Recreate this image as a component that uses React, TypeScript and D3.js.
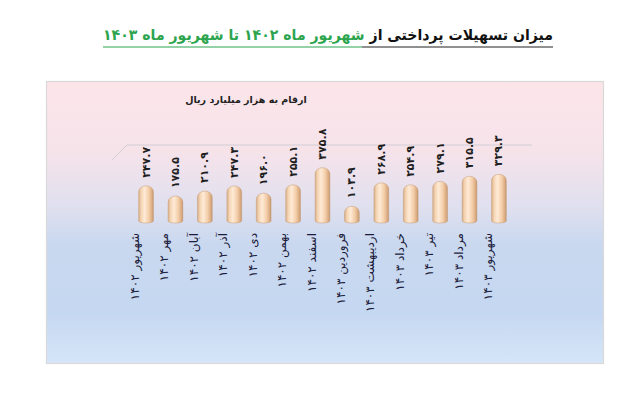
import { useEffect, useRef } from "react";
import * as d3 from "d3";

const months = [
  "شهریور ۱۴۰۲",
  "مهر ۱۴۰۲",
  "آبان ۱۴۰۲",
  "آذر ۱۴۰۲",
  "دی ۱۴۰۲",
  "بهمن ۱۴۰۲",
  "اسفند ۱۴۰۲",
  "فروردین ۱۴۰۳",
  "اردیبهشت ۱۴۰۳",
  "خرداد ۱۴۰۳",
  "تیر ۱۴۰۳",
  "مرداد ۱۴۰۳",
  "شهریور ۱۴۰۳",
];
const values = [247.7, 175.5, 210.9, 247.3, 196.0, 255.1, 375.8, 103.9, 268.9, 254.9, 279.1, 315.5, 329.3];
const valueLabels = ["۲۴۷.۷", "۱۷۵.۵", "۲۱۰.۹", "۲۴۷.۳", "۱۹۶.۰", "۲۵۵.۱", "۳۷۵.۸", "۱۰۳.۹", "۲۶۸.۹", "۲۵۴.۹", "۲۷۹.۱", "۳۱۵.۵", "۳۲۹.۳"];
const titleBlack = "میزان تسهیلات پرداختی از ";
const titleGreen = "شهریور ماه ۱۴۰۲ تا شهریور ماه ۱۴۰۳";
const unitNote = "ارقام به هزار میلیارد ریال";

const W = 640;
const H = 402;
const FONT = "'DejaVu Sans', sans-serif";

export default function App() {
  const svgRef = useRef<SVGSVGElement>(null);

  useEffect(() => {
    if (!svgRef.current) return;
    const svg = d3.select(svgRef.current);
    svg.selectAll("*").remove();

    // gradients
    const defs = svg.append("defs");
    const bg = defs
      .append("linearGradient")
      .attr("id", "bg")
      .attr("x1", 0)
      .attr("y1", 0)
      .attr("x2", 0)
      .attr("y2", 1);
    [
      ["0%", "#fbe5e9"],
      ["25%", "#f6e3ea"],
      ["44%", "#e0e0ef"],
      ["58%", "#c9d8ef"],
      ["82%", "#c5d8f1"],
      ["100%", "#d6e5f8"],
    ].forEach(([o, c]) => bg.append("stop").attr("offset", o).attr("stop-color", c));

    const cyl = defs
      .append("linearGradient")
      .attr("id", "cyl")
      .attr("x1", 0)
      .attr("y1", 0)
      .attr("x2", 1)
      .attr("y2", 0);
    [
      ["0%", "#d9b08a"],
      ["18%", "#f5d6b5"],
      ["40%", "#feead6"],
      ["70%", "#f3cda8"],
      ["92%", "#d8a97f"],
      ["100%", "#c2946c"],
    ].forEach(([o, c]) => cyl.append("stop").attr("offset", o).attr("stop-color", c));

    // plot panel
    svg
      .append("rect")
      .attr("x", 46.5)
      .attr("y", 81.5)
      .attr("width", 557)
      .attr("height", 282)
      .attr("fill", "url(#bg)")
      .attr("stroke", "#d9d9d9")
      .attr("stroke-width", 1.2);

    // scales
    const x = d3.scaleBand<string>().domain(months).range([124, 521]).padding(0.5);
    const y = d3.scaleLinear().domain([0, 430]).range([221, 160]);

    // 3D back-wall gridline
    const depth = 15;
    const gx0 = 112;
    const gy = y(430);
    svg
      .append("path")
      .attr("d", `M${gx0},${gy} L${gx0 + depth},${gy - depth} L${532},${gy - depth}`)
      .attr("fill", "none")
      .attr("stroke", "#c9c9cf")
      .attr("stroke-width", 0.8);

    // title
    const title = svg
      .append("text")
      .attr("x", 328)
      .attr("y", 40)
      .attr("text-anchor", "middle")
      .attr("direction", "rtl")
      .attr("font-family", FONT)
      .attr("font-weight", "bold")
      .attr("font-size", 15)
      .attr("textLength", 450)
      .attr("lengthAdjust", "spacingAndGlyphs");
    title.append("tspan").attr("fill", "#111").text(titleBlack);
    title.append("tspan").attr("fill", "#2da44e").text(titleGreen);

    // underline (black under the first part, green under the coloured part)
    svg.append("line").attr("x1", 362).attr("x2", 553).attr("y1", 47).attr("y2", 47).attr("stroke", "#222").attr("stroke-width", 1.2);
    svg.append("line").attr("x1", 103).attr("x2", 362).attr("y1", 47).attr("y2", 47).attr("stroke", "#2da44e").attr("stroke-width", 1.2);

    // unit note
    svg
      .append("text")
      .attr("x", 246)
      .attr("y", 103)
      .attr("text-anchor", "middle")
      .attr("font-family", FONT)
      .attr("font-weight", "bold")
      .attr("font-size", 9.5)
      .attr("fill", "#222")
      .text(unitNote);

    // cylinders
    const bars = svg.append("g");
    months.forEach((m, i) => {
      const x0 = x(m)!;
      const w = x.bandwidth();
      const top = y(values[i]);
      const bottom = y(0);
      const r = w / 2;
      const ry = 6;
      bars
        .append("path")
        .attr(
          "d",
          `M${x0},${bottom} L${x0},${top + ry} A${r},${ry} 0 0 1 ${x0 + w},${top + ry} L${x0 + w},${bottom} A${r},2 0 0 1 ${x0},${bottom} Z`,
        )
        .attr("fill", "url(#cyl)")
        .attr("stroke", "#c49a74")
        .attr("stroke-width", 0.5);
    });

    // value labels
    svg
      .append("g")
      .selectAll("text")
      .data(months)
      .join("text")
      .attr("transform", (m, i) => `translate(${x(m)! + x.bandwidth() / 2},${y(values[i]) - 8}) rotate(-90)`)
      .attr("text-anchor", "start")
      .attr("dominant-baseline", "central")
      .attr("font-family", FONT)
      .attr("font-weight", "bold")
      .attr("font-size", 11)
      .attr("fill", "#1e1e1e")
      .text((_, i) => valueLabels[i]);

    // category labels
    svg
      .append("g")
      .selectAll("text")
      .data(months)
      .join("text")
      .attr("transform", (m) => `translate(${x(m)! + x.bandwidth() / 2 - 11},${233}) rotate(-90)`)
      .attr("text-anchor", "end")
      .attr("dominant-baseline", "central")
      .attr("font-family", FONT)
      .attr("font-size", 12)
      .attr("fill", "#1c1c3c")
      .text((m) => m);
  }, []);

  return (
    <div style={{ position: "absolute", left: 0, top: 0, width: W, height: H, background: "#fff" }}>
      <svg ref={svgRef} width={W} height={H} />
    </div>
  );
}
